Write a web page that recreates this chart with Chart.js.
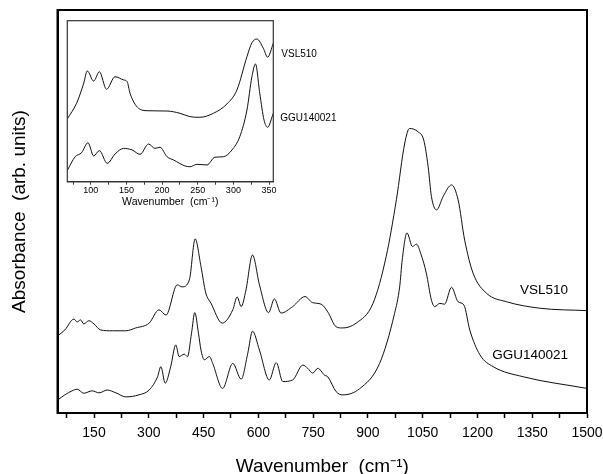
<!DOCTYPE html>
<html>
<head>
<meta charset="utf-8">
<script src="https://cdn.jsdelivr.net/npm/chart.js@4/dist/chart.umd.min.js"></script>
<style>
    html, body { margin: 0; padding: 0; background: #fff; }
    #wrap { position: relative; width: 603px; height: 474px; overflow: hidden; }
    #mainChart { position: absolute; left: 0; top: 0; }
    #insetChart { position: absolute; left: 60px; top: 15px; }
</style>
</head>
<body>
<div id="wrap">
    <canvas id="mainChart" width="603" height="474"></canvas>
    <canvas id="insetChart" width="300" height="200"></canvas>
</div>
<script>
// --- Main spectra (wavenumber, absorbance in arbitrary units) ---
const vslMainX = [50, 70, 95, 104, 113, 122, 136, 150, 168, 200, 237, 264, 301, 328, 347, 378, 391, 411, 427, 443,
    456, 470, 501, 530, 542, 553, 566, 584, 603, 628, 644, 662, 694, 728, 748, 772, 790, 813, 830, 868,
    914, 950, 978, 1001, 1014, 1037, 1053, 1065, 1074, 1088, 1106, 1129, 1147, 1165, 1188, 1225, 1280, 1371, 1500];
const vslMainY = [19.1, 20.6, 23.3, 22.6, 23.1, 22.1, 22.9, 22.1, 20.6, 20.4, 20.4, 21.1, 22.3, 25.6, 24.3, 31.8, 31.3, 33.0, 43.2, 36.3,
    29.8, 27.3, 22.3, 25.6, 28.8, 26.4, 30.5, 39.2, 31.8, 24.9, 28.3, 24.8, 26.4, 28.9, 27.4, 27.0, 25.1, 21.4, 21.1, 22.3,
    27.2, 38.8, 52.9, 67.0, 70.6, 69.8, 67.7, 61.1, 53.7, 50.4, 53.7, 56.6, 52.9, 42.9, 34.7, 29.7, 27.6, 26.0, 25.4];

const gguMainX = [50, 70, 90, 104, 122, 145, 164, 186, 210, 237, 273, 301, 324, 333, 345, 360, 374, 383, 397, 406,
    417, 426, 436, 443, 452, 466, 475, 502, 530, 553, 571, 584, 603, 630, 649, 667, 694, 722, 735, 749,
    763, 781, 790, 813, 831, 877, 932, 973, 987, 994, 1007, 1022, 1033, 1046, 1060, 1074, 1083, 1097, 1110, 1129,
    1147, 1163, 1179, 1207, 1243, 1325, 1500];
const gguMainY = [3.2, 4.5, 5.5, 5.9, 4.9, 5.5, 5.0, 5.7, 5.0, 4.0, 4.5, 5.7, 9.0, 11.5, 7.4, 11.5, 16.9, 14.0, 14.6, 14.0,
    19.8, 24.9, 19.8, 15.6, 13.2, 14.0, 12.3, 6.1, 12.3, 8.4, 14.8, 20.3, 15.6, 8.2, 12.5, 7.8, 8.2, 11.9, 11.1, 9.9,
    11.1, 9.4, 9.0, 5.3, 4.5, 6.0, 12.3, 24.7, 31.3, 38.0, 44.7, 41.3, 41.9, 39.2, 34.7, 28.0, 26.4, 27.2, 27.0, 31.2,
    27.6, 26.8, 20.6, 14.4, 11.5, 9.0, 6.1];

// --- Inset: far-IR region ---
const vslInsetX = [67, 80, 90, 95, 104, 112, 122, 134, 146, 151, 155, 167, 179, 207, 225, 239, 253, 272, 291, 305,
    319, 326, 333, 342, 348, 356];
const vslInsetY = [39.0, 48.7, 61.1, 68.8, 62.5, 68.3, 57.4, 65.2, 63.2, 62.1, 54.9, 45.6, 44.1, 43.9, 42.5, 40.4, 40.0, 42.5, 48.3, 57.0,
    77.6, 86.3, 88.6, 82.9, 77.3, 86.0];

const gguInsetX = [67, 78, 87, 96, 104, 112, 123, 134, 146, 158, 169, 181, 190, 197, 207, 216, 232, 239, 249, 263,
    274, 286, 298, 309, 319, 326, 331, 337, 343, 348, 356];
const gguInsetY = [7.0, 15.5, 18.0, 24.2, 16.0, 19.3, 11.4, 17.2, 20.7, 19.7, 17.0, 23.4, 20.7, 21.4, 15.5, 13.5, 9.8, 9.3, 10.8, 10.4,
    15.2, 15.5, 19.7, 28.0, 44.5, 65.2, 73.1, 54.9, 38.3, 33.8, 42.5];

const seriesNames = ['VSL510', 'GGU140021'];
const mainTickLabels = [150, 300, 450, 600, 750, 900, 1050, 1200, 1350, 1500];
const insetTickLabels = [100, 150, 200, 250, 300, 350];

const FONT = "'Liberation Sans', Arial, Helvetica, sans-serif";
const INK = '#111';

function toPoints(xs, ys) {
    return xs.map((x, i) => ({ x: x, y: ys[i] }));
}

function lineSet(label, xs, ys) {
    return {
        label: label,
        data: toPoints(xs, ys),
        borderColor: INK,
        borderWidth: 1,
        pointRadius: 0,
        fill: false,
        cubicInterpolationMode: 'monotone'
    };
}

// keep the plot box where it is, even if the edge labels spill over
function fixHeight(h) {
    return (s) => {
        s.height = h;
        s.paddingLeft = 0;
        s.paddingRight = 0;
    };
}

// frame round the plot area + series names next to the curves
const framePlugin = {
    id: 'frame',
    afterDatasetsDraw(chart, args, opts) {
        const { ctx, chartArea: a, scales } = chart;
        ctx.save();
        ctx.strokeStyle = opts.color;
        ctx.lineWidth = opts.width;
        ctx.strokeRect(a.left, a.top, a.right - a.left, a.bottom - a.top);

        ctx.fillStyle = '#000';
        ctx.font = opts.labelSize + 'px ' + FONT;
        ctx.textBaseline = 'middle';
        opts.labels.forEach(l => {
            ctx.textAlign = l.align;
            const x = l.x !== undefined ? scales.x.getPixelForValue(l.x) : a.right + l.dx;
            ctx.fillText(l.text, x, scales.y.getPixelForValue(l.y));
        });
        ctx.restore();
    }
};

new Chart(document.getElementById('mainChart'), {
    type: 'line',
    data: {
        datasets: [
            lineSet(seriesNames[0], vslMainX, vslMainY),
            lineSet(seriesNames[1], gguMainX, gguMainY)
        ]
    },
    options: {
        responsive: false,
        animation: false,
        events: [],
        layout: { autoPadding: false, padding: { left: 0, right: 16, top: 10, bottom: 0 } },
        plugins: {
            legend: { display: false },
            tooltip: { enabled: false },
            frame: {
                color: '#000',
                width: 2,
                labelSize: 13.5,
                labels: [
                    { text: seriesNames[0], x: 1448, y: 30.5, align: 'right' },
                    { text: seriesNames[1], x: 1448, y: 14.4, align: 'right' }
                ]
            }
        },
        scales: {
            x: {
                type: 'linear',
                min: 50,
                max: 1500,
                afterFit: fixHeight(61),
                ticks: {
                    stepSize: 75,
                    includeBounds: false,
                    autoSkip: false,
                    maxRotation: 0,
                    padding: 7,
                    color: '#000',
                    font: { family: FONT, size: 14 },
                    callback: (v) => mainTickLabels.includes(v) ? String(v) : ''
                },
                grid: { display: true, drawOnChartArea: false, tickLength: 5, tickColor: '#000', tickWidth: 1.5 },
                border: { display: true, color: '#000', width: 2 },
                title: {
                    display: true,
                    text: 'Wavenumber  (cm⁻¹)',
                    color: '#000',
                    font: { family: FONT, size: 19, lineHeight: 0.8 },
                    padding: { top: 0, bottom: 0 }
                }
            },
            y: {
                min: 0,
                max: 100,
                afterFit: (s) => { s.width = 57.5; },
                ticks: { display: false },
                grid: { display: false },
                border: { display: true, color: '#000', width: 2 },
                title: {
                    display: true,
                    text: 'Absorbance  (arb. units)',
                    color: '#000',
                    font: { family: FONT, size: 19 },
                    padding: { top: 8.5, bottom: 0 }
                }
            }
        }
    },
    plugins: [framePlugin]
});

new Chart(document.getElementById('insetChart'), {
    type: 'line',
    data: {
        datasets: [
            lineSet(seriesNames[0], vslInsetX, vslInsetY),
            lineSet(seriesNames[1], gguInsetX, gguInsetY)
        ]
    },
    options: {
        responsive: false,
        animation: false,
        events: [],
        layout: { autoPadding: false, padding: { left: 7.3, right: 86.7, top: 5.7, bottom: 0 } },
        plugins: {
            legend: { display: false },
            tooltip: { enabled: false },
            frame: {
                color: '#333',
                width: 1.2,
                labelSize: 10,
                labels: [
                    { text: seriesNames[0], dx: 8, y: 79.1, align: 'left' },
                    { text: seriesNames[1], dx: 7, y: 39.4, align: 'left' }
                ]
            }
        },
        scales: {
            x: {
                type: 'linear',
                min: 67,
                max: 356,
                afterFit: fixHeight(33.3),
                ticks: {
                    stepSize: 25,
                    includeBounds: false,
                    autoSkip: false,
                    maxRotation: 0,
                    padding: 0,
                    color: '#000',
                    font: { family: FONT, size: 9 },
                    callback: (v) => insetTickLabels.includes(v) ? String(v) : ''
                },
                grid: { display: true, drawOnChartArea: false, tickLength: 3, tickColor: '#333' },
                border: { display: true, color: '#333', width: 1.2 },
                title: {
                    display: true,
                    text: 'Wavenumber  (cm⁻¹)',
                    color: '#000',
                    font: { family: FONT, size: 10.5, lineHeight: 1.2 },
                    padding: { top: 0, bottom: 6.5 }
                }
            },
            y: {
                display: false,
                min: 0,
                max: 100
            }
        }
    },
    plugins: [framePlugin]
});
</script>
</body>
</html>
